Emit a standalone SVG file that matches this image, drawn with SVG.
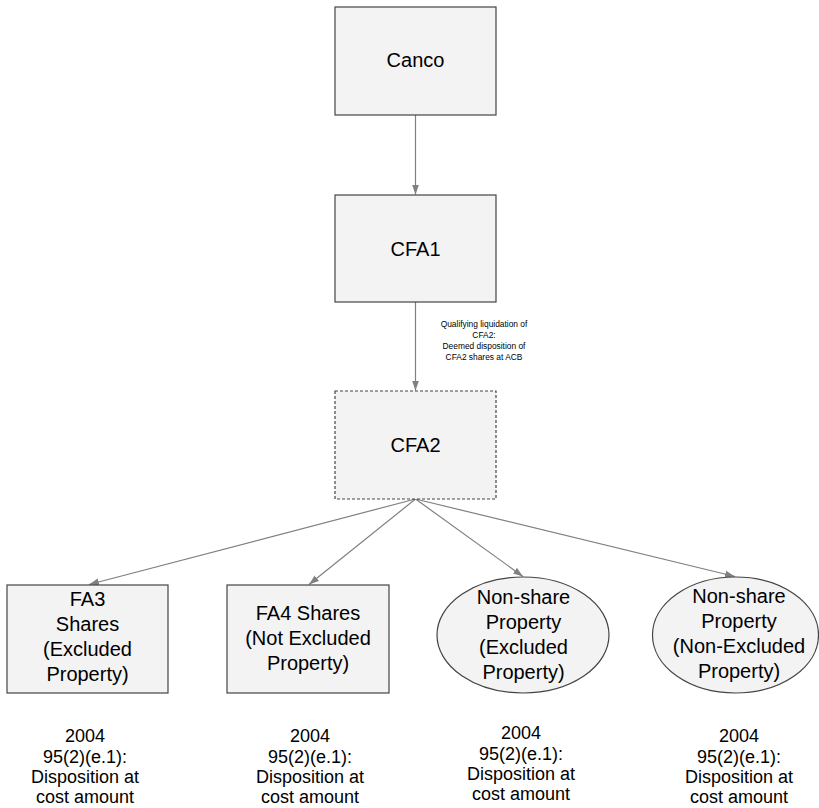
<svg xmlns="http://www.w3.org/2000/svg" width="819" height="808" viewBox="0 0 819 808">
  <style>
    .box { fill: #f3f3f3; stroke: #444444; stroke-width: 1.2; }
    .dash { stroke-dasharray: 3 2; }
    .edge { fill: none; stroke: #808080; stroke-width: 1.2; }
    .lbl { font-family: "Liberation Sans", Arial, sans-serif; font-size: 20px; fill: #000000; text-anchor: middle; }
    .note { font-family: "Liberation Sans", Arial, sans-serif; font-size: 18px; fill: #000000; text-anchor: middle; }
    .small { font-family: "Liberation Sans", Arial, sans-serif; font-size: 8.4px; fill: #000000; text-anchor: middle; }
  </style>
  <defs>
    <marker id="arrow" markerUnits="userSpaceOnUse" markerWidth="11" markerHeight="8" refX="10" refY="4" orient="auto">
      <path d="M0,0.5 L10,4 L0,7.5 z" fill="#808080"/>
    </marker>
  </defs>
  <rect width="819" height="808" fill="#ffffff"/>

  <!-- connectors -->
  <g id="connectors">
    <line class="edge" x1="415.5" y1="115" x2="415.5" y2="194.5" marker-end="url(#arrow)"/>
    <line class="edge" x1="415.5" y1="302" x2="415.5" y2="390.5" marker-end="url(#arrow)"/>
    <line class="edge" x1="415.5" y1="499" x2="89" y2="584.5" marker-end="url(#arrow)"/>
    <line class="edge" x1="415.5" y1="499" x2="309" y2="584.5" marker-end="url(#arrow)"/>
    <line class="edge" x1="415.5" y1="499" x2="523" y2="576.5" marker-end="url(#arrow)"/>
    <line class="edge" x1="415.5" y1="499" x2="735" y2="576.5" marker-end="url(#arrow)"/>
    <g id="edge-label">
      <text class="small" x="484" y="327">Qualifying liquidation of</text>
      <text class="small" x="484" y="338">CFA2:</text>
      <text class="small" x="484" y="349">Deemed disposition of</text>
      <text class="small" x="484" y="360">CFA2 shares at ACB</text>
    </g>
  </g>

  <!-- nodes -->
  <g id="canco">
    <rect class="box" x="335" y="7" width="161" height="108"/>
    <text class="lbl" x="415.5" y="67">Canco</text>
  </g>
  <g id="cfa1">
    <rect class="box" x="335" y="195" width="161" height="107"/>
    <text class="lbl" x="415.5" y="256">CFA1</text>
  </g>
  <g id="cfa2">
    <rect class="box dash" x="335" y="391" width="161" height="108"/>
    <text class="lbl" x="415.5" y="452">CFA2</text>
  </g>
  <g id="fa3">
    <rect class="box" x="7" y="585" width="161" height="108"/>
    <text class="lbl" x="87.5" y="606">FA3</text>
    <text class="lbl" x="87.5" y="631">Shares</text>
    <text class="lbl" x="87.5" y="656">(Excluded</text>
    <text class="lbl" x="87.5" y="681">Property)</text>
  </g>
  <g id="fa4">
    <rect class="box" x="227" y="585" width="162" height="108"/>
    <text class="lbl" x="308" y="620">FA4 Shares</text>
    <text class="lbl" x="308" y="645">(Not Excluded</text>
    <text class="lbl" x="308" y="670">Property)</text>
  </g>
  <g id="nonshare-excluded">
    <ellipse class="box" cx="523" cy="635" rx="86" ry="58"/>
    <text class="lbl" x="523.5" y="604">Non-share</text>
    <text class="lbl" x="523.5" y="629">Property</text>
    <text class="lbl" x="523.5" y="654">(Excluded</text>
    <text class="lbl" x="523.5" y="679">Property)</text>
  </g>
  <g id="nonshare-nonexcluded">
    <ellipse class="box" cx="735.5" cy="635" rx="83" ry="58"/>
    <text class="lbl" x="739" y="603">Non-share</text>
    <text class="lbl" x="739" y="628">Property</text>
    <text class="lbl" x="739" y="653">(Non-Excluded</text>
    <text class="lbl" x="739" y="678">Property)</text>
  </g>

  <!-- notes under the holdings -->
  <g id="note-fa3">
    <text class="note" x="85" y="742">2004</text>
    <text class="note" x="85" y="763">95(2)(e.1):</text>
    <text class="note" x="85" y="783">Disposition at</text>
    <text class="note" x="85" y="803">cost amount</text>
  </g>
  <g id="note-fa4">
    <text class="note" x="310" y="742">2004</text>
    <text class="note" x="310" y="763">95(2)(e.1):</text>
    <text class="note" x="310" y="783">Disposition at</text>
    <text class="note" x="310" y="803">cost amount</text>
  </g>
  <g id="note-excluded">
    <text class="note" x="521" y="739">2004</text>
    <text class="note" x="521" y="760">95(2)(e.1):</text>
    <text class="note" x="521" y="780">Disposition at</text>
    <text class="note" x="521" y="800">cost amount</text>
  </g>
  <g id="note-nonexcluded">
    <text class="note" x="739" y="742">2004</text>
    <text class="note" x="739" y="763">95(2)(e.1):</text>
    <text class="note" x="739" y="783">Disposition at</text>
    <text class="note" x="739" y="803">cost amount</text>
  </g>
</svg>
